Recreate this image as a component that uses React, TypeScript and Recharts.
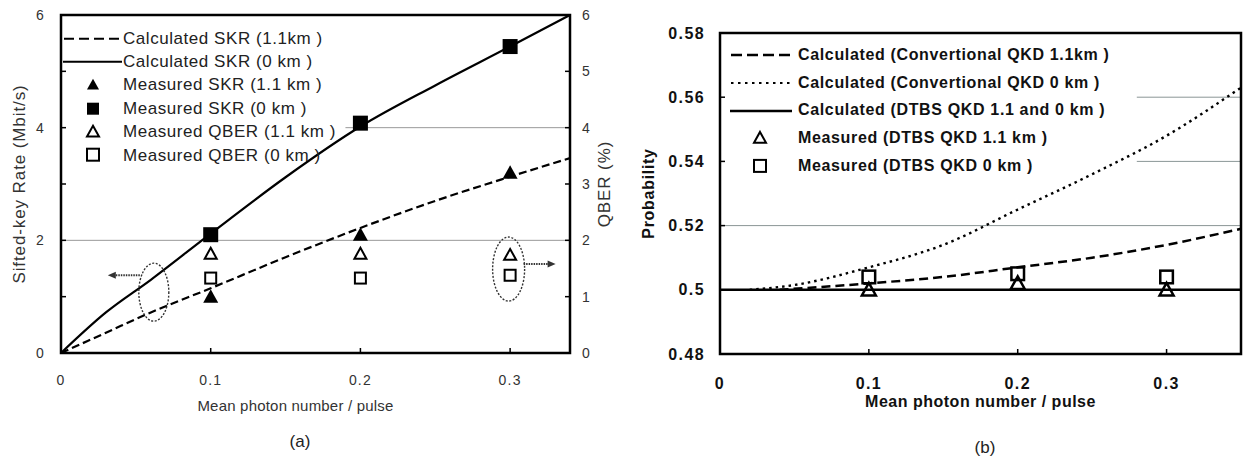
import React from 'react'
import {
  ComposedChart,
  Line,
  Scatter,
  XAxis,
  YAxis,
  CartesianGrid,
  ReferenceArea,
  ReferenceDot,
  Legend,
} from 'recharts'

const FONT = '"Liberation Sans", Arial, Helvetica, sans-serif'

// (a) sifted-key rate / QBER vs mean photon number
const skrPhoton = [0, 0.03, 0.06, 0.1, 0.15, 0.2, 0.25, 0.3, 0.34]
const skrCalc11km = [0, 0.36, 0.72, 1.15, 1.7, 2.22, 2.7, 3.13, 3.46]
const skrCalc0km = [0, 0.72, 1.3, 2.12, 3.12, 4.02, 4.75, 5.44, 6.0]
const measPhoton = [0.1, 0.2, 0.3]
const skrMeas11km = [1.0, 2.1, 3.2]
const skrMeas0km = [2.1, 4.08, 5.44]
const qberMeas11km = [1.76, 1.76, 1.74]
const qberMeas0km = [1.33, 1.33, 1.38]
const rateTicks = [0, 1, 2, 3, 4, 5, 6]
const photonTicks = [0, 0.1, 0.2, 0.3]
const legendA = [
  'Calculated SKR (1.1km )',
  'Calculated SKR (0 km )',
  'Measured SKR (1.1 km )',
  'Measured SKR (0 km )',
  'Measured QBER (1.1 km )',
  'Measured QBER (0 km )',
]
const iconsA = ['dash', 'solid', 'triFill', 'sqFill', 'tri', 'sq']

// (b) probability vs mean photon number
const conv0Photon = [0.02, 0.05, 0.1, 0.15, 0.2, 0.25, 0.3, 0.35]
const probConv0km = [0.5, 0.5015, 0.507, 0.514, 0.525, 0.536, 0.548, 0.563]
const conv11Photon = [0.04, 0.1, 0.15, 0.2, 0.25, 0.3, 0.35]
const probConv11km = [0.5, 0.502, 0.504, 0.507, 0.51, 0.514, 0.519]
const dtbsPhoton = [0, 0.35]
const probDtbs = [0.5, 0.5]
const probMeas11km = [0.5, 0.502, 0.5]
const probMeas0km = [0.504, 0.505, 0.504]
const probTicks = [0.48, 0.5, 0.52, 0.54, 0.56, 0.58]
const legendB = [
  'Calculated (Convertional QKD 1.1km )',
  'Calculated (Convertional QKD 0 km )',
  'Calculated (DTBS QKD 1.1 and 0 km )',
  'Measured (DTBS QKD 1.1 km )',
  'Measured (DTBS QKD 0 km )',
]
const iconsB = ['dashB', 'dot', 'solidB', 'tri', 'sq']

const pts = (xs: number[], ys: number[]) => xs.map((x, i) => ({ x, y: ys[i] }))

function Marker({ kind, cx, cy, s, sw = 2 }: any) {
  if (kind === 'triFill')
    return <polygon points={`${cx},${cy - s} ${cx + s},${cy + s * 0.8} ${cx - s},${cy + s * 0.8}`} fill="#000" />
  if (kind === 'sqFill') return <rect x={cx - s} y={cy - s} width={2 * s} height={2 * s} fill="#000" />
  if (kind === 'tri')
    return (
      <polygon
        points={`${cx},${cy - s} ${cx + s},${cy + s * 0.8} ${cx - s},${cy + s * 0.8}`}
        fill="none"
        stroke="#000"
        strokeWidth={sw}
        strokeLinejoin="miter"
      />
    )
  return <rect x={cx - s} y={cy - s} width={2 * s} height={2 * s} fill="none" stroke="#000" strokeWidth={sw} />
}

const shapeOf = (kind: string, s: number, sw?: number) => (p: any) =>
  <Marker kind={kind} cx={p.cx} cy={p.cy} s={s} sw={sw} />

function Callout({ cx, cy, rx, ry, dir, ay }: any) {
  const x0 = cx + dir * (rx - 1)
  const x1 = x0 + dir * 32
  return (
    <g>
      <ellipse cx={cx} cy={cy} rx={rx} ry={ry} fill="none" stroke="#333" strokeWidth={1.4} strokeDasharray="2 1.6" />
      <line x1={x0} x2={x1 - dir * 6} y1={cy + ay} y2={cy + ay} stroke="#333" strokeWidth={2} strokeDasharray="1.5 1" />
      <polygon
        points={`${x1},${cy + ay} ${x1 - dir * 8},${cy + ay - 3.5} ${x1 - dir * 8},${cy + ay + 3.5}`}
        fill="#333"
      />
    </g>
  )
}

type Side = 'left' | 'right' | 'bottom'
const tickOf = (side: Side, gap: number, font: React.CSSProperties, show: (v: number) => boolean = () => true) =>
  (p: any) => {
    const { x, y, payload } = p
    const v = payload.value
    const t = 5
    let ln
    if (side === 'left') ln = <line x1={x + gap} x2={x + gap + t} y1={y} y2={y} />
    else if (side === 'right') ln = <line x1={x - gap} x2={x - gap - t} y1={y} y2={y} />
    else ln = <line x1={x} x2={x} y1={y - gap} y2={y - gap - t} />
    const anchor = side === 'left' ? 'end' : side === 'right' ? 'start' : 'middle'
    return (
      <g>
        <g stroke="#000" strokeWidth={1.5}>{ln}</g>
        {show(v) && (
          <text x={x} y={y} textAnchor={anchor} dominantBaseline="central" style={font}>
            {String(v)}
          </text>
        )}
      </g>
    )
  }

const yTitle = (text: string, dx: number, angle: number, font: React.CSSProperties) => ({
  content: (lp: any) => {
    const vb = lp.viewBox
    const x = vb.x + dx
    const y = vb.y + vb.height / 2
    return (
      <text x={x} y={y} textAnchor="middle" dominantBaseline="central" transform={`rotate(${angle} ${x} ${y})`} style={font}>
        {text}
      </text>
    )
  },
})

const xTitle = (text: string, dx: number, dy: number, font: React.CSSProperties) => ({
  content: (lp: any) => {
    const vb = lp.viewBox
    return (
      <text x={vb.x + vb.width / 2 + dx} y={vb.y + dy} textAnchor="middle" dominantBaseline="central" style={font}>
        {text}
      </text>
    )
  },
})

function LegendIcon({ kind, w, h, mx, ms }: any) {
  const y = h / 2
  if (kind === 'dash') return <line x1={1} x2={w} y1={y} y2={y} stroke="#000" strokeWidth={2} strokeDasharray="10 5" />
  if (kind === 'dashB') return <line x1={1} x2={w} y1={y} y2={y} stroke="#000" strokeWidth={2.5} strokeDasharray="11 5" />
  if (kind === 'solid') return <line x1={0} x2={w} y1={y} y2={y} stroke="#000" strokeWidth={2} />
  if (kind === 'solidB') return <line x1={0} x2={w} y1={y} y2={y} stroke="#000" strokeWidth={2.5} />
  if (kind === 'dot')
    return <line x1={1} x2={w} y1={y} y2={y} stroke="#000" strokeWidth={2} strokeDasharray="2.5 4.5" />
  return <Marker kind={kind} cx={mx} cy={y} s={ms} sw={2} />
}

function LegendBox({ labels, icons, rowH, iconW, mx, ms, gap, font }: any) {
  return (
    <div style={{ ...font, lineHeight: 1 }}>
      {labels.map((l: string, i: number) => (
        <div key={l} style={{ display: 'flex', alignItems: 'center', height: rowH }}>
          <svg width={iconW} height={rowH} style={{ display: 'block' }}>
            <LegendIcon kind={icons[i]} w={iconW} h={rowH} mx={mx} ms={ms} />
          </svg>
          <span style={{ marginLeft: gap, whiteSpace: 'nowrap' }}>{l}</span>
        </div>
      ))}
    </div>
  )
}

const tickA: React.CSSProperties = { fontFamily: FONT, fontSize: 14, fill: '#333', letterSpacing: 1.2 }
const titleA: React.CSSProperties = { fontFamily: FONT, fontSize: 17, fill: '#333', letterSpacing: 0.9 }
const tickB: React.CSSProperties = { fontFamily: FONT, fontSize: 16, fontWeight: 'bold', fill: '#111', letterSpacing: 1.4 }
const titleB: React.CSSProperties = { fontFamily: FONT, fontSize: 16, fontWeight: 'bold', fill: '#111', letterSpacing: 0.5 }

function ChartA() {
  return (
    <ComposedChart width={640} height={460} margin={{ top: 15, right: 0, bottom: 0, left: 0 }}>
      <CartesianGrid horizontal vertical={false} horizontalValues={[2, 4]} stroke="#999" strokeWidth={1} />
      <XAxis
        dataKey="x"
        type="number"
        domain={[0, 0.34]}
        ticks={photonTicks}
        height={107}
        axisLine={false}
        tickLine={false}
        tickSize={0}
        tickMargin={27}
        tick={tickOf('bottom', 27, tickA)}
        label={xTitle('Mean photon number / pulse', -20, 52, { ...titleA, fontSize: 15, letterSpacing: 0.2 })}
      />
      <YAxis
        domain={[0, 6]}
        ticks={rateTicks}
        width={61}
        axisLine={false}
        tickLine={false}
        tickSize={0}
        tickMargin={16}
        tick={tickOf('left', 16, tickA, (v) => v % 2 === 0)}
        label={yTitle('Sifted-key Rate (Mbit/s)', 19, -90, titleA)}
      />
      <YAxis
        yAxisId="q"
        orientation="right"
        domain={[0, 6]}
        ticks={rateTicks}
        width={70}
        axisLine={false}
        tickLine={false}
        tickSize={0}
        tickMargin={12}
        tick={tickOf('right', 12, tickA)}
        label={yTitle('QBER (%)', 34, -90, titleA)}
      />
      <ReferenceArea x1={0} x2={0.19} y1={3.3} y2={6} fill="#fff" fillOpacity={1} stroke="none" />
      <ReferenceArea x1={0} x2={0.34} y1={0} y2={6} fill="none" stroke="#000" strokeWidth={2.5} />
      <Line data={pts(skrPhoton, skrCalc11km)} dataKey="y" type="monotone" stroke="#000" strokeWidth={2.2} strokeDasharray="8 4" dot={false} activeDot={false} isAnimationActive={false} />
      <Line data={pts(skrPhoton, skrCalc0km)} dataKey="y" type="monotone" stroke="#000" strokeWidth={2.2} dot={false} activeDot={false} isAnimationActive={false} />
      <Scatter data={pts(measPhoton, skrMeas11km)} dataKey="y" shape={shapeOf('triFill', 7.5)} isAnimationActive={false} />
      <Scatter data={pts(measPhoton, skrMeas0km)} dataKey="y" shape={shapeOf('sqFill', 7.5)} isAnimationActive={false} />
      <Scatter yAxisId="q" data={pts(measPhoton, qberMeas11km)} dataKey="y" shape={shapeOf('tri', 6, 2)} isAnimationActive={false} />
      <Scatter yAxisId="q" data={pts(measPhoton, qberMeas0km)} dataKey="y" shape={shapeOf('sq', 5.5, 2)} isAnimationActive={false} />
      <ReferenceDot x={0.062} y={1.08} r={0} shape={(p: any) => <Callout cx={p.cx} cy={p.cy} rx={15} ry={29} dir={-1} ay={-17} />} />
      <ReferenceDot yAxisId="q" x={0.299} y={1.49} r={0} shape={(p: any) => <Callout cx={p.cx} cy={p.cy} rx={16} ry={32} dir={1} ay={-5} />} />
      <Legend
        layout="vertical"
        align="center"
        verticalAlign="middle"
        wrapperStyle={{ left: 63, top: 26.5, width: 300 }}
        content={() => (
          <LegendBox
            labels={legendA}
            icons={iconsA}
            rowH={23.4}
            iconW={59}
            mx={30}
            ms={6}
            gap={1}
            font={{ fontFamily: FONT, fontSize: 17, color: '#222', letterSpacing: 0.55 }}
          />
        )}
      />
    </ComposedChart>
  )
}

function ChartB() {
  return (
    <ComposedChart width={604} height={460} margin={{ top: 33, right: 3, bottom: 0, left: 0 }}>
      <CartesianGrid horizontal vertical={false} horizontalValues={[0.5, 0.52, 0.54, 0.56]} stroke="#8a9696" strokeWidth={1} />
      <XAxis
        dataKey="x"
        type="number"
        domain={[0, 0.35]}
        ticks={photonTicks}
        height={106}
        axisLine={false}
        tickLine={false}
        tickSize={0}
        tickMargin={29}
        tick={tickOf('bottom', 29, tickB)}
        label={xTitle('Mean photon number / pulse', 0, 47, titleB)}
      />
      <YAxis
        domain={[0.48, 0.58]}
        ticks={probTicks}
        width={80}
        axisLine={false}
        tickLine={false}
        tickSize={0}
        tickMargin={15}
        tick={tickOf('left', 15, tickB)}
        label={yTitle('Probability', 8, -90, { ...titleB, letterSpacing: 0.7 })}
      />
      <ReferenceArea x1={0} x2={0.28} y1={0.535} y2={0.58} fill="#fff" fillOpacity={1} stroke="none" />
      <ReferenceArea x1={0} x2={0.35} y1={0.48} y2={0.58} fill="none" stroke="#000" strokeWidth={2.5} />
      <Line data={pts(conv11Photon, probConv11km)} dataKey="y" type="monotone" stroke="#000" strokeWidth={2.5} strokeDasharray="9 5" dot={false} activeDot={false} isAnimationActive={false} />
      <Line data={pts(conv0Photon, probConv0km)} dataKey="y" type="monotone" stroke="#000" strokeWidth={2.4} strokeDasharray="2.5 4" dot={false} activeDot={false} isAnimationActive={false} />
      <Line data={pts(dtbsPhoton, probDtbs)} dataKey="y" type="linear" stroke="#000" strokeWidth={2.5} dot={false} activeDot={false} isAnimationActive={false} />
      <Scatter data={pts(measPhoton, probMeas11km)} dataKey="y" shape={shapeOf('tri', 7, 2.5)} isAnimationActive={false} />
      <Scatter data={pts(measPhoton, probMeas0km)} dataKey="y" shape={shapeOf('sq', 6.3, 2.5)} isAnimationActive={false} />
      <Legend
        layout="vertical"
        align="center"
        verticalAlign="middle"
        wrapperStyle={{ left: 90, top: 41, width: 440 }}
        content={() => (
          <LegendBox
            labels={legendB}
            icons={iconsB}
            rowH={27.8}
            iconW={62}
            mx={30}
            ms={6}
            gap={6}
            font={{ fontFamily: FONT, fontSize: 16, fontWeight: 'bold', color: '#111', letterSpacing: 0.65 }}
          />
        )}
      />
    </ComposedChart>
  )
}

export default function App() {
  return (
    <div style={{ position: 'absolute', left: 0, top: 0, width: 1244, height: 460, background: '#fff', fontFamily: FONT }}>
      <div style={{ position: 'absolute', left: 0, top: 0 }}>
        <ChartA />
      </div>
      <div style={{ position: 'absolute', left: 640, top: 0 }}>
        <ChartB />
      </div>
      <div style={{ position: 'absolute', left: 260, width: 80, top: 432, textAlign: 'center', fontSize: 17, color: '#222' }}>(a)</div>
      <div style={{ position: 'absolute', left: 945, width: 80, top: 438, textAlign: 'center', fontSize: 17, color: '#222' }}>(b)</div>
    </div>
  )
}
